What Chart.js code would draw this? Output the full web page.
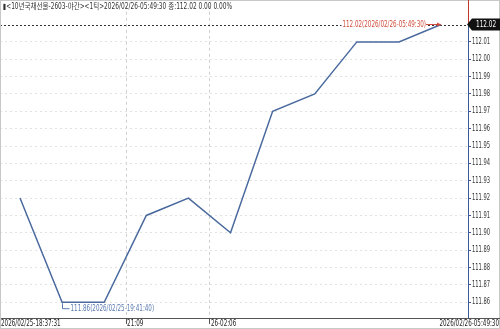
<!DOCTYPE html>
<html><head><meta charset="utf-8">
<script src="https://cdn.jsdelivr.net/npm/chart.js@4/dist/chart.umd.min.js"></script>
<style>html,body{margin:0;padding:0;background:#fff;}#wrap{width:500px;height:329px;position:relative}</style>
</head><body><div id="wrap"><canvas id="c" width="500" height="329"></canvas></div>
<script>
const titleText = "\u25AE<10년국채선물-2603-야간><1틱>2026/02/26-05:49:30 종:112.02 0.00 0.00%";
const tickIndex = [0, 1, 2, 3, 4, 5, 6, 7, 8, 9, 10];
const closeValues = [111.92, 111.86, 111.86, 111.91, 111.92, 111.90, 111.97, 111.98, 112.01, 112.01, 112.02];
const yTickValues = [112.01, 112.00, 111.99, 111.98, 111.97, 111.96, 111.95, 111.94, 111.93, 111.92, 111.91, 111.90, 111.89, 111.88, 111.87, 111.86];
const xTickPositions = [2.52, 4.51];
const xTickLabels = ["21:09", "26-02:06"];
const xEdgeLabels = ["2026/02/25-18:37:31", "2026/02/26-05:49:30"];
const lastValue = 112.02;
const lastIndex = 10;
const lastLabel = "112.02(2026/02/26-05:49:30)";
const lowValue = 111.86;
const lowIndex = 1;
const lowLabel = "111.86(2026/02/25-19:41:40)";

const FONT = "'DejaVu Sans Condensed', 'Noto Sans CJK KR', sans-serif";
const LINE_COLOR = '#4a6a9e';
const NARROW = 0.78;
const NARROW_Y = 0.72;

function narrowText(ctx, text, x, y, align, sx) {
  ctx.save();
  ctx.translate(x, y);
  ctx.scale(sx, 1);
  ctx.textAlign = align;
  ctx.fillText(text, 0, 0);
  ctx.restore();
}

const overlay = {
  id: 'overlay',
  beforeDraw(chart) {
    const s = chart.scales.y;
    if (!s._narrowWrapped) {
      const orig = s.drawLabels.bind(s);
      s.drawLabels = function (area) {
        const c = this.ctx;
        const x0 = this.left + 4;
        c.save();
        c.translate(x0, 0); c.scale(NARROW_Y, 1); c.translate(-x0, 0);
        orig(area);
        c.restore();
      };
      s._narrowWrapped = true;
    }
  },
  beforeDatasetsDraw(chart) {
    const {ctx, chartArea: a, scales: {y}} = chart;
    const py = Math.round(y.getPixelForValue(lastValue)) + 0.5;
    ctx.save();
    ctx.strokeStyle = '#333';
    ctx.lineWidth = 1;
    ctx.setLineDash([2, 2]);
    ctx.beginPath(); ctx.moveTo(a.left, py); ctx.lineTo(a.right, py); ctx.stroke();
    ctx.restore();
  },
  afterDraw(chart) {
    const {ctx, chartArea: a, scales: {x, y}} = chart;
    const W = chart.width, H = chart.height;
    ctx.save();
    // frame
    ctx.strokeStyle = '#c8c8c8'; ctx.lineWidth = 1;
    ctx.strokeRect(0.5, 0.5, W - 1, H - 1);
    // title
    ctx.font = '8px ' + FONT; ctx.fillStyle = '#333'; ctx.textBaseline = 'middle';
    narrowText(ctx, titleText, 3, 7, 'left', 229 / ctx.measureText(titleText).width);
    // x axis line extension
    ctx.strokeStyle = '#555';
    ctx.beginPath(); ctx.moveTo(a.right, Math.round(a.bottom) + 0.5); ctx.lineTo(W, Math.round(a.bottom) + 0.5); ctx.stroke();
    // x labels
    ctx.font = '8px ' + FONT;
    ctx.fillStyle = '#222'; ctx.textBaseline = 'top';
    const ly = a.bottom + 1.5;
    narrowText(ctx, xEdgeLabels[0], 1, ly, 'left', NARROW);
    narrowText(ctx, xEdgeLabels[1], W - 1, ly, 'right', NARROW);
    x.ticks.forEach((t, i) => {
      narrowText(ctx, xTickLabels[i], x.getPixelForValue(t.value) + 1, ly, 'left', NARROW);
    });
    // red vertical
    const py = y.getPixelForValue(lastValue);
    const rx = Math.round(a.right) + 0.5;
    ctx.strokeStyle = '#c0392b'; ctx.lineWidth = 1;
    ctx.beginPath(); ctx.moveTo(rx, 0); ctx.lineTo(rx, py); ctx.stroke();
    // value box
    ctx.fillStyle = '#111';
    ctx.beginPath();
    ctx.moveTo(a.right - 1, py);
    ctx.lineTo(a.right + 4, py - 6);
    ctx.lineTo(W, py - 6);
    ctx.lineTo(W, py + 6);
    ctx.lineTo(a.right + 4, py + 6);
    ctx.closePath(); ctx.fill();
    ctx.fillStyle = '#fff'; ctx.textBaseline = 'middle';
    ctx.font = '8px ' + FONT;
    narrowText(ctx, lastValue.toFixed(2), a.right + 8, py + 0.5, 'left', 0.8);
    // last annotation
    const lx = x.getPixelForValue(lastIndex);
    ctx.font = '8px ' + FONT;
    const tw = ctx.measureText(lastLabel).width * NARROW;
    ctx.fillStyle = '#fff';
    ctx.fillRect(lx - 15 - tw - 1, py - 4, tw + 2, 8);
    ctx.strokeStyle = '#d04a3a'; ctx.fillStyle = '#d04a3a';
    ctx.beginPath(); ctx.moveTo(lx - 15, py); ctx.lineTo(lx, py); ctx.stroke();
    ctx.beginPath(); ctx.moveTo(lx, py); ctx.lineTo(lx - 4, py - 2); ctx.lineTo(lx - 4, py + 2); ctx.closePath(); ctx.fill();
    ctx.textBaseline = 'middle';
    narrowText(ctx, lastLabel, lx - 15, py, 'right', NARROW);
    // low annotation
    const lwx = Math.round(x.getPixelForValue(lowIndex)) + 0.5;
    const lwy = y.getPixelForValue(lowValue);
    ctx.strokeStyle = '#5a7ab0'; ctx.fillStyle = '#5a7ab0';
    ctx.beginPath(); ctx.moveTo(lwx, lwy + 1); ctx.lineTo(lwx, lwy + 6.5); ctx.lineTo(lwx + 7, lwy + 6.5); ctx.stroke();
    narrowText(ctx, lowLabel, lwx + 8, lwy + 6.5, 'left', NARROW);
    ctx.restore();
  }
};

new Chart(document.getElementById('c'), {
  type: 'line',
  data: {
    datasets: [{
      data: tickIndex.map((t, i) => ({x: t, y: closeValues[i]})),
      borderColor: LINE_COLOR,
      borderWidth: 1.5,
      pointRadius: 0,
      tension: 0,
      fill: false
    }]
  },
  options: {
    responsive: false,
    devicePixelRatio: 1,
    animation: false,
    layout: {padding: {top: 2, left: 0, right: 0, bottom: 0}},
    plugins: {legend: {display: false}, tooltip: {enabled: false}, title: {display: false}},
    scales: {
      x: {
        type: 'linear', position: 'bottom', min: -0.475, max: 10.64,
        afterFit(s) { s.height = 11; },
        afterBuildTicks(s) { s.ticks = xTickPositions.map(v => ({value: v})); },
        ticks: {display: false, autoSkip: false, maxRotation: 0},
        grid: {color: '#cfcfcf', tickLength: 6, tickColor: '#555', drawOnChartArea: true},
        border: {color: '#555', width: 1, dash: [3, 3]}
      },
      y: {
        type: 'linear', position: 'right', min: 111.8509, max: 112.0308,
        afterFit(s) { s.width = 32; },
        afterBuildTicks(s) { s.ticks = yTickValues.map(v => ({value: v})); },
        ticks: {
          autoSkip: false, padding: 1,
          font: {size: 8, family: FONT}, color: '#333',
          callback: v => Number(v).toFixed(2)
        },
        grid: {color: '#e2e2e2', tickLength: 3, tickColor: '#3a5a9a', drawOnChartArea: true},
        border: {color: '#3a5a9a', width: 1, dash: [2, 3]}
      }
    }
  },
  plugins: [overlay]
});
</script></body></html>
